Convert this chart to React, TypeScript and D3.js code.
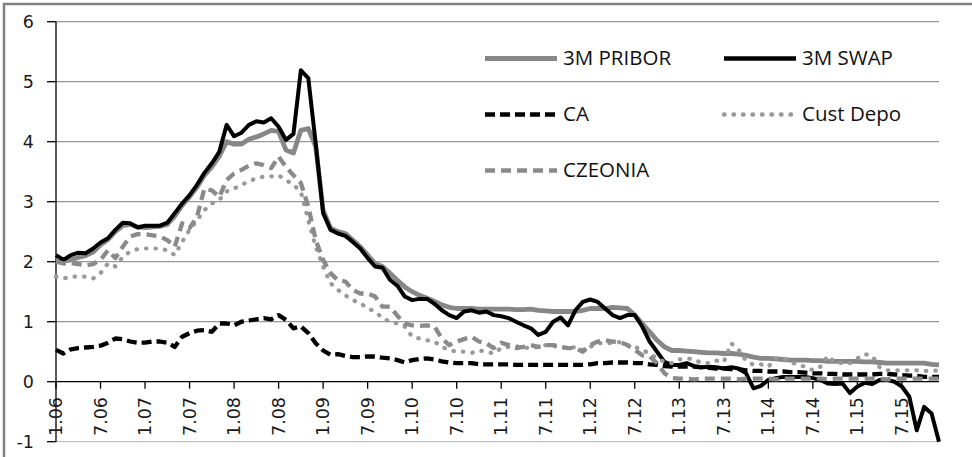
import React from 'react';
import * as d3 from 'd3';

// monthly data, Jan 2006 .. Dec 2015
const startYear = 2006;
const months: string[] = d3.range(120).map(i => `${(i % 12) + 1}.${String((startYear + Math.floor(i / 12)) % 100).padStart(2, '0')}`);

const tickLabels = ['1.06', '7.06', '1.07', '7.07', '1.08', '7.08', '1.09', '7.09', '1.10', '7.10',
  '1.11', '7.11', '1.12', '7.12', '1.13', '7.13', '1.14', '7.14', '1.15', '7.15'];
const yTicks = [-1, 0, 1, 2, 3, 4, 5, 6];

const pribor = [
  2.00, 2.01, 2.03, 2.07, 2.10, 2.16, 2.28, 2.37, 2.50, 2.60,
  2.62, 2.58, 2.57, 2.58, 2.59, 2.62, 2.76, 2.94, 3.08, 3.24,
  3.44, 3.58, 3.76, 4.00, 3.96, 3.96, 4.04, 4.08, 4.13, 4.19,
  4.17, 3.86, 3.81, 4.19, 4.22, 3.92, 2.86, 2.56, 2.50, 2.47,
  2.36, 2.25, 2.11, 1.97, 1.92, 1.81, 1.69, 1.58, 1.50, 1.44,
  1.39, 1.34, 1.28, 1.24, 1.22, 1.22, 1.22, 1.21, 1.21, 1.21,
  1.21, 1.21, 1.20, 1.20, 1.21, 1.19, 1.18, 1.17, 1.17, 1.17,
  1.17, 1.19, 1.22, 1.22, 1.22, 1.24, 1.23, 1.22, 1.11, 0.97,
  0.83, 0.69, 0.58, 0.52, 0.52, 0.51, 0.50, 0.49, 0.48, 0.48,
  0.47, 0.47, 0.46, 0.44, 0.41, 0.39, 0.39, 0.38, 0.37, 0.36,
  0.36, 0.36, 0.35, 0.35, 0.34, 0.34, 0.34, 0.34, 0.34, 0.33,
  0.33, 0.32, 0.31, 0.31, 0.31, 0.31, 0.31, 0.31, 0.29, 0.28,
];

const swap = [
  2.11, 2.03, 2.11, 2.15, 2.14, 2.22, 2.32, 2.39, 2.53, 2.65,
  2.64, 2.57, 2.60, 2.60, 2.60, 2.65, 2.81, 2.97, 3.11, 3.28,
  3.48, 3.64, 3.83, 4.28, 4.09, 4.15, 4.28, 4.34, 4.32, 4.39,
  4.25, 4.03, 4.13, 5.19, 5.06, 3.97, 2.81, 2.53, 2.47, 2.43,
  2.33, 2.22, 2.06, 1.92, 1.90, 1.70, 1.60, 1.42, 1.36, 1.38,
  1.38, 1.30, 1.19, 1.11, 1.06, 1.17, 1.19, 1.15, 1.17, 1.11,
  1.09, 1.06, 1.00, 0.94, 0.89, 0.78, 0.83, 1.00, 1.07, 0.94,
  1.19, 1.33, 1.37, 1.33, 1.22, 1.11, 1.06, 1.11, 1.11, 0.92,
  0.67, 0.50, 0.33, 0.28, 0.28, 0.31, 0.26, 0.24, 0.25, 0.24,
  0.22, 0.24, 0.22, 0.14, -0.11, -0.07, 0.03, 0.06, 0.08, 0.08,
  0.08, 0.08, 0.06, 0.03, -0.03, -0.04, -0.03, -0.19, -0.08, -0.02,
  -0.04, 0.03, 0.03, 0.00, -0.08, -0.25, -0.81, -0.42, -0.53, -1.00,
];

const ca = [
  0.53, 0.47, 0.54, 0.56, 0.57, 0.58, 0.60, 0.65, 0.72, 0.71,
  0.67, 0.65, 0.65, 0.67, 0.67, 0.65, 0.58, 0.75, 0.81, 0.85,
  0.86, 0.83, 0.97, 0.97, 0.94, 1.00, 1.02, 1.04, 1.06, 1.04,
  1.11, 1.03, 0.89, 0.92, 0.81, 0.64, 0.52, 0.45, 0.46, 0.43,
  0.41, 0.41, 0.42, 0.42, 0.40, 0.39, 0.36, 0.32, 0.36, 0.38,
  0.39, 0.37, 0.34, 0.32, 0.31, 0.31, 0.31, 0.29, 0.29, 0.29,
  0.29, 0.29, 0.28, 0.28, 0.28, 0.28, 0.28, 0.28, 0.28, 0.28,
  0.28, 0.28, 0.29, 0.31, 0.31, 0.32, 0.32, 0.32, 0.31, 0.31,
  0.29, 0.28, 0.26, 0.25, 0.25, 0.25, 0.25, 0.24, 0.23, 0.22,
  0.22, 0.21, 0.21, 0.19, 0.18, 0.18, 0.17, 0.17, 0.17, 0.16,
  0.16, 0.15, 0.14, 0.14, 0.13, 0.13, 0.12, 0.12, 0.12, 0.12,
  0.12, 0.13, 0.13, 0.12, 0.11, 0.10, 0.10, 0.08, 0.08, 0.08,
];

const custDepo = [
  1.75, 1.72, 1.75, 1.75, 1.75, 1.72, 1.81, 1.97, 1.92, 2.08,
  2.17, 2.21, 2.22, 2.22, 2.22, 2.19, 2.11, 2.33, 2.53, 2.69,
  2.86, 2.97, 3.03, 3.17, 3.22, 3.28, 3.34, 3.39, 3.42, 3.42,
  3.44, 3.36, 3.28, 3.17, 2.69, 2.25, 1.92, 1.64, 1.53, 1.44,
  1.36, 1.31, 1.22, 1.17, 1.06, 1.00, 0.97, 0.92, 0.75, 0.72,
  0.69, 0.67, 0.58, 0.53, 0.50, 0.50, 0.48, 0.52, 0.50, 0.47,
  0.56, 0.58, 0.59, 0.57, 0.56, 0.58, 0.61, 0.60, 0.56, 0.58,
  0.57, 0.53, 0.58, 0.64, 0.65, 0.64, 0.66, 0.61, 0.58, 0.53,
  0.47, 0.39, 0.33, 0.31, 0.37, 0.39, 0.37, 0.31, 0.31, 0.35,
  0.33, 0.64, 0.53, 0.35, 0.28, 0.29, 0.25, 0.39, 0.39, 0.33,
  0.28, 0.25, 0.19, 0.25, 0.43, 0.32, 0.31, 0.31, 0.39, 0.46,
  0.43, 0.24, 0.19, 0.19, 0.19, 0.19, 0.19, 0.18, 0.18, 0.19,
];

const czeonia = [
  2.00, 1.97, 1.98, 1.96, 1.94, 1.96, 2.03, 2.19, 2.06, 2.25,
  2.42, 2.46, 2.46, 2.44, 2.42, 2.36, 2.25, 2.64, 2.56, 2.75,
  3.22, 3.19, 3.08, 3.36, 3.47, 3.53, 3.60, 3.64, 3.61, 3.56,
  3.75, 3.58, 3.44, 3.31, 2.92, 2.36, 2.03, 1.81, 1.69, 1.67,
  1.53, 1.47, 1.47, 1.42, 1.25, 1.25, 1.10, 0.97, 0.94, 0.93,
  0.94, 0.92, 0.72, 0.61, 0.67, 0.71, 0.75, 0.67, 0.64, 0.56,
  0.65, 0.61, 0.56, 0.58, 0.61, 0.58, 0.61, 0.61, 0.58, 0.56,
  0.56, 0.50, 0.61, 0.67, 0.69, 0.67, 0.66, 0.61, 0.53, 0.44,
  0.42, 0.31, 0.14, 0.06, 0.05, 0.05, 0.04, 0.05, 0.05, 0.05,
  0.05, 0.05, 0.04, 0.05, 0.05, 0.05, 0.05, 0.04, 0.05, 0.05,
  0.05, 0.05, 0.05, 0.05, 0.04, 0.05, 0.05, 0.05, 0.05, 0.05,
  0.05, 0.05, 0.04, 0.05, 0.05, 0.05, 0.05, 0.05, 0.05, 0.05,
];

type Series = { name: string, values: number[], color: string, width: number, dash?: string, cap?: 'round' | 'butt' };

const series: Series[] = [
  { name: '3M PRIBOR', values: pribor, color: '#878787', width: 4.8 },
  { name: '3M SWAP', values: swap, color: '#000000', width: 4 },
  { name: 'CA', values: ca, color: '#000000', width: 4.3, dash: '10 5' },
  { name: 'Cust Depo', values: custDepo, color: '#999999', width: 4.2, dash: '0.5 9', cap: 'round' },
  { name: 'CZEONIA', values: czeonia, color: '#8a8a8a', width: 4.3, dash: '10 6' },
];

const width = 972;
const height = 457;
const marginLeft = 56;
const plotRight = 939;
const plotTop = 21.7;
const plotBottom = 441.7;

const App: React.FC = () => {
  const x = d3.scaleLinear().domain([0, months.length - 1]).range([marginLeft, plotRight]);
  const y = d3.scaleLinear().domain([-1, 6]).range([plotBottom, plotTop]);
  const line = d3.line<number>().x((_, i) => x(i)).y(d => y(d));

  // legend placement
  const legendCols = [485, 724];
  const legendRows = [58.5, 114.5, 170.5];

  return (
    <svg width={width} height={height} style={{ position: 'absolute', left: 0, top: 0, background: '#fff' }}>
      <rect x={4} y={4} width={width + 10} height={height + 10} fill="#fff" stroke="#808080" strokeWidth={2.5} />

      {/* gridlines */}
      {yTicks.filter(t => t !== 0).map(t => (
        <line key={t} x1={marginLeft} x2={plotRight} y1={y(t)} y2={y(t)}
          stroke={t === -1 ? '#c0c0c0' : '#979797'} strokeWidth={1.3} />
      ))}

      {/* y axis */}
      <line x1={marginLeft} x2={marginLeft} y1={plotTop} y2={plotBottom} stroke="#000" strokeWidth={1.3} />
      {yTicks.map(t => (
        <g key={t}>
          <line x1={marginLeft - 9} x2={marginLeft} y1={y(t)} y2={y(t)} stroke="#000" strokeWidth={1.3} />
          <text x={34} y={y(t)} textAnchor="end" dominantBaseline="central"
            fontFamily="DejaVu Sans" fontSize={17.5} fill="#1a1a1a">{t}</text>
        </g>
      ))}

      {/* x axis */}
      <line x1={marginLeft} x2={plotRight} y1={y(0)} y2={y(0)} stroke="#000" strokeWidth={1.3} />
      {tickLabels.map(lab => {
        const i = months.indexOf(lab);
        return (
          <g key={lab}>
            <line x1={x(i)} x2={x(i)} y1={y(0)} y2={y(0) + 7} stroke="#000" strokeWidth={1.3} />
            <text transform={`translate(${x(i)},397) rotate(-90)`} textAnchor="end" dominantBaseline="central"
              fontFamily="DejaVu Sans" fontSize={17.5} fill="#1a1a1a">{lab}</text>
          </g>
        );
      })}

      {/* series */}
      {series.map(s => (
        <path key={s.name} d={line(s.values) ?? ''} fill="none" stroke={s.color} strokeWidth={s.width}
          strokeDasharray={s.dash} strokeLinecap={s.cap ?? 'butt'} strokeLinejoin="round" />
      ))}

      {/* legend */}
      {series.map((s, k) => {
        const lx = legendCols[k % 2];
        const ly = legendRows[Math.floor(k / 2)];
        return (
          <g key={s.name}>
            <line x1={lx} x2={lx + 72} y1={ly} y2={ly} stroke={s.color} strokeWidth={s.width + 0.3}
              strokeDasharray={s.dash} strokeLinecap={s.cap ?? 'butt'} />
            <text x={lx + 78} y={ly + 6.5} fontFamily="Open Sans" fontSize={20.5} fill="#111">{s.name}</text>
          </g>
        );
      })}
    </svg>
  );
};

export default App;
